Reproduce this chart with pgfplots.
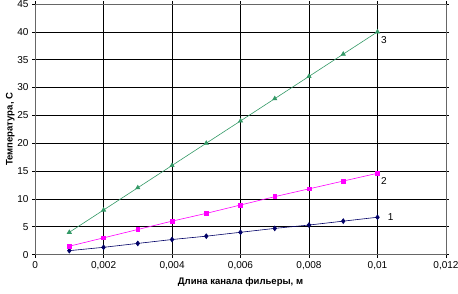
\documentclass[border=0pt]{standalone}
\usepackage{pgfplots}
\pgfplotsset{compat=1.18}
\usepackage{fontspec}
\setmainfont{Liberation Sans}
\definecolor{s1}{RGB}{0,0,102}
\definecolor{s2}{RGB}{255,0,255}
\definecolor{s3}{RGB}{51,153,102}
\begin{document}
\begin{tikzpicture}
\begin{axis}[
  scale only axis, width=410pt, height=250pt,
  xmin=0, xmax=0.012, ymin=0, ymax=45,
  xtick={0,0.002,0.004,0.006,0.008,0.01,0.012},
  xticklabels={0,{0,002},{0,004},{0,006},{0,008},{0,01},{0,012}},
  ytick={0,5,...,45},
  grid=major, major grid style={black, line width=0.6pt},
  axis line style={gray!80!black, line width=0.6pt},
  tick style={black, line width=0.5pt}, tick align=outside, major tick length=3pt,
  scaled x ticks=false,
  /pgf/number format/assume math mode=true,
  ticklabel style={font=\fontsize{10}{12}\selectfont},
  xlabel={\textbf{Длина канала фильеры, м}},
  ylabel={\textbf{Температура, С}},
  label style={font=\fontsize{9.5}{11}\selectfont},
  xlabel style={yshift=-1pt},
  ylabel style={yshift=-4pt},
  clip=false,
]
\addplot[s1, line width=0.6pt, mark=diamond*, mark size=2.4pt, mark options={fill=s1}] coordinates {
(0.001,0.7)(0.002,1.3)(0.003,2.0)(0.004,2.7)(0.005,3.3)(0.006,4.0)(0.007,4.7)(0.008,5.3)(0.009,6.0)(0.01,6.7)};
\addplot[s2, line width=0.6pt, mark=square*, mark size=1.9pt, mark options={fill=s2}] coordinates {
(0.001,1.5)(0.002,3.0)(0.003,4.5)(0.004,6.0)(0.005,7.4)(0.006,8.9)(0.007,10.4)(0.008,11.8)(0.009,13.2)(0.01,14.6)};
\addplot[s3, line width=0.6pt, mark=triangle*, mark size=2.4pt, mark options={fill=s3}] coordinates {
(0.001,4)(0.002,8)(0.003,12)(0.004,16)(0.005,20)(0.006,24)(0.007,28)(0.008,32)(0.009,36)(0.01,40)};
\node[font=\fontsize{10}{12}\selectfont, anchor=west] at (axis cs:0.0102,6.7) {1};
\node[font=\fontsize{10}{12}\selectfont, anchor=north west] at (axis cs:0.01,14.4) {2};
\node[font=\fontsize{10}{12}\selectfont, anchor=north west] at (axis cs:0.01,39.8) {3};
\end{axis}
\pgfresetboundingbox
\path (current axis.south west) ++(-35pt,-39pt) coordinate (a);
\path (current axis.north east) ++(12pt,4pt) coordinate (b);
\path (a) rectangle (b);
\end{tikzpicture}
\end{document}
